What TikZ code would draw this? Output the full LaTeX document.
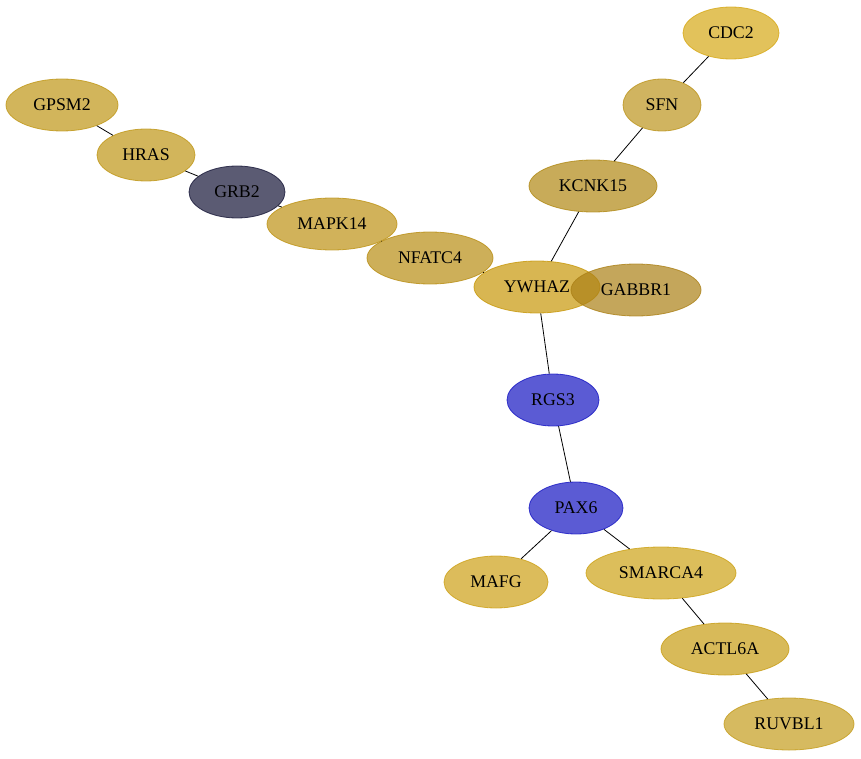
\documentclass[tikz,border=0pt]{standalone}
\usepackage{fontspec}
\setmainfont{Liberation Serif}
\usetikzlibrary{shapes.geometric}
\definecolor{cYWHAZ}{RGB}{199,151,9}
\definecolor{cGABBR}{RGB}{171,128,22}
\definecolor{cGPSM}{RGB}{191,150,22}
\definecolor{cHRAS}{RGB}{191,150,22}
\definecolor{cGRB}{RGB}{22,22,55}
\definecolor{cMAPK}{RGB}{189,146,20}
\definecolor{cNFAT}{RGB}{184,141,19}
\definecolor{cBlue}{RGB}{22,22,194}
\definecolor{cCDC}{RGB}{214,168,22}
\definecolor{cSFN}{RGB}{188,148,28}
\definecolor{cKCNK}{RGB}{176,136,19}
\definecolor{cSMARC}{RGB}{205,162,22}
\definecolor{cACTL}{RGB}{199,156,19}
\definecolor{cRUV}{RGB}{196,156,28}
\definecolor{cMAFG}{RGB}{205,160,22}
\tikzset{
  gene/.style={ellipse, inner sep=0pt, minimum height=52pt, fill=#1, draw=#1,
    fill opacity=0.7, draw opacity=0.8, text opacity=1, line width=0.8pt,
    font=\fontsize{17.8}{20}\selectfont, text=black},
  link/.style={draw=black, line width=0.8pt}
}
\begin{document}
\begin{tikzpicture}[x=1pt,y=-1pt]
\useasboundingbox (0,0) rectangle (861,759);
\node[gene=cGPSM, minimum width=112pt] (GPSM2) at (62,105) {GPSM2};
\node[gene=cHRAS, minimum width=98pt] (HRAS) at (146,155) {HRAS};
\node[gene=cGRB, minimum width=96pt] (GRB2) at (237,192) {GRB2};
\node[gene=cMAPK, minimum width=130pt] (MAPK14) at (332,224) {MAPK14};
\node[gene=cNFAT, minimum width=126pt] (NFATC4) at (430,258) {NFATC4};
\node[gene=cYWHAZ, minimum width=126pt] (YWHAZ) at (537,287) {YWHAZ};
\node[gene=cGABBR, minimum width=130pt] (GABBR1) at (636,290) {GABBR1};
\node[gene=cCDC, minimum width=96pt] (CDC2) at (731,33) {CDC2};
\node[gene=cSFN, minimum width=78pt] (SFN) at (662,105) {SFN};
\node[gene=cKCNK, minimum width=128pt] (KCNK15) at (593,186) {KCNK15};
\node[gene=cBlue, minimum width=92pt] (RGS3) at (553,400) {RGS3};
\node[gene=cBlue, minimum width=94pt] (PAX6) at (576,508) {PAX6};
\node[gene=cMAFG, minimum width=104pt] (MAFG) at (496,582) {MAFG};
\node[gene=cSMARC, minimum width=150pt] (SMARCA4) at (661,573) {SMARCA4};
\node[gene=cACTL, minimum width=128pt] (ACTL6A) at (725,649) {ACTL6A};
\node[gene=cRUV, minimum width=130pt] (RUVBL1) at (789,724) {RUVBL1};
\draw[link] (GPSM2) -- (HRAS);
\draw[link] (HRAS) -- (GRB2);
\draw[link] (GRB2) -- (MAPK14);
\draw[link] (MAPK14) -- (NFATC4);
\draw[link] (NFATC4) -- (YWHAZ);
\draw[link] (YWHAZ) -- (KCNK15);
\draw[link] (KCNK15) -- (SFN);
\draw[link] (SFN) -- (CDC2);
\draw[link] (YWHAZ) -- (RGS3);
\draw[link] (RGS3) -- (PAX6);
\draw[link] (PAX6) -- (MAFG);
\draw[link] (PAX6) -- (SMARCA4);
\draw[link] (SMARCA4) -- (ACTL6A);
\draw[link] (ACTL6A) -- (RUVBL1);
\end{tikzpicture}
\end{document}
